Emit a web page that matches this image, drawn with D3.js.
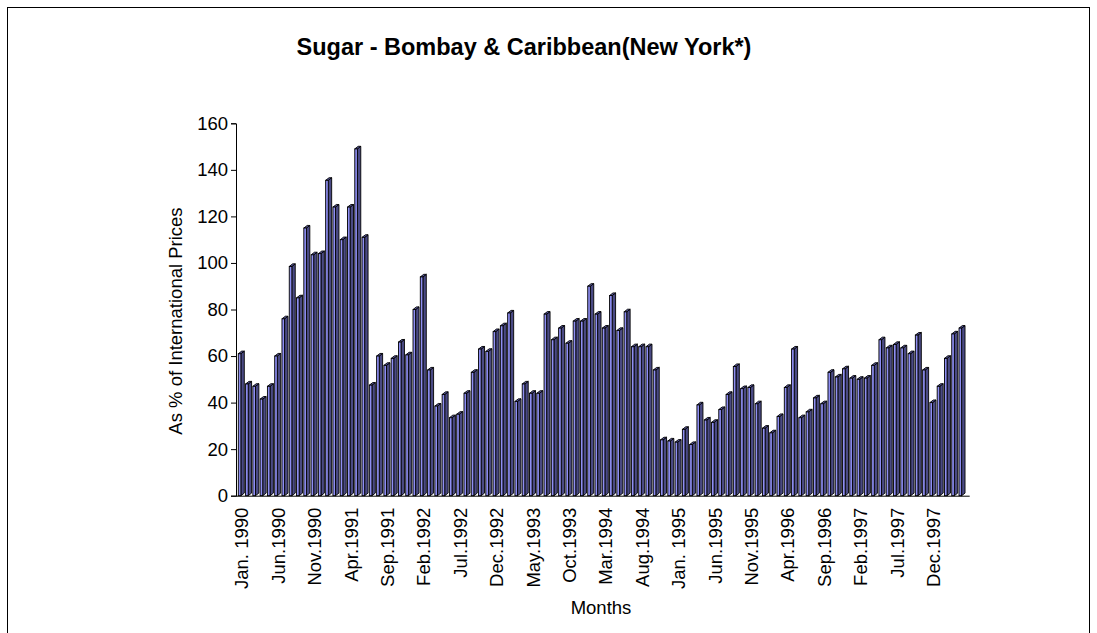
<!DOCTYPE html>
<html><head><meta charset="utf-8">
<script src="https://cdn.jsdelivr.net/npm/d3@7"></script>
<style>
body{margin:0;background:#fff;}
svg text{font-family:"Liberation Sans",Arial,sans-serif;fill:#000;}
</style></head>
<body><svg id="c" width="1097" height="633"></svg>
<script>
const title = "Sugar - Bombay & Caribbean(New York*)";
const yTitle = "As % of International Prices";
const xTitle = "Months";
const monthNames = ["Jan","Feb","Mar","Apr","May","Jun","Jul","Aug","Sep","Oct","Nov","Dec"];
const years = [1990,1991,1992,1993,1994,1995,1996,1997,1998];
const values = [61,48,47,41.5,47,60,76,98.5,85,115,103.5,104,
  135.5,124,110,124,149,111,47.5,60,56,59,66,60.5,
  80,94,54,38.5,43.5,33.5,35,44,53,63,62,70.5,
  73,78.5,40.5,48,44,44,78,67,72,65.5,75,75,
  90,78,72,86,71,79,64,64,64,54,24,23.5,
  23,28.5,22,39,32.5,31.5,37,43.5,55.5,46,46.5,39.5,
  29,27,34,46.5,63,33.5,36,42,39.5,53,51,54.5,
  50.5,50,50.5,56,67,63.5,65,63.5,61,69,54,40,
  47,59,69.5,72];
const tickLabels = ["Jan. 1990","Jun.1990","Nov.1990","Apr.1991","Sep.1991","Feb.1992","Jul.1992","Dec.1992","May.1993","Oct.1993","Mar.1994","Aug.1994","Jan. 1995","Jun.1995","Nov.1995","Apr.1996","Sep.1996","Feb.1997","Jul.1997","Dec.1997"];
const yTicks = [0,20,40,60,80,100,120,140,160];

const categories = [];
years.forEach(yr => monthNames.forEach(m => categories.push(m + "." + yr)));
const cats = categories.slice(0, values.length);
const data = cats.map((c,i)=>({c, v: values[i]}));
const tickCats = cats.filter((c,i)=> i % 5 === 0);
const tickMap = new Map(tickCats.map((c,i)=>[c, tickLabels[i]]));

const svg = d3.select("#c");
svg.append("rect").attr("x",7.5).attr("y",7.5).attr("width",1082).attr("height",640)
  .attr("fill","none").attr("stroke","#000").attr("stroke-width",1);

const x = d3.scaleBand().domain(cats).range([238.3, 238.3 + 7.28*cats.length]).padding(0);
const y = d3.scaleLinear().domain([0,160]).range([495.7,123.3]);

const fw = 2.6, dx = 3.4, dy = -2.6;
const light = "#8e8ef2", dark = "#4a4a84", topc = "#5c5ca8";
const g = svg.append("g");
data.forEach(d => {
  const x0 = x(d.c), yt = y(d.v), yb = y(0);
  g.append("path").attr("d", `M${x0+fw},${yt}L${x0+fw+dx},${yt+dy}L${x0+fw+dx},${yb+dy}L${x0+fw},${yb}Z`)
    .attr("fill", dark).attr("stroke","#000").attr("stroke-width",0.9);
  g.append("path").attr("d", `M${x0},${yt}L${x0+dx},${yt+dy}L${x0+fw+dx},${yt+dy}L${x0+fw},${yt}Z`)
    .attr("fill", topc).attr("stroke","#000").attr("stroke-width",0.9);
  g.append("rect").attr("x",x0).attr("y",yt).attr("width",fw).attr("height",yb-yt)
    .attr("fill", light).attr("stroke","#000").attr("stroke-width",0.9);
});

const ya = svg.append("g").attr("transform","translate(236,0)")
  .call(d3.axisLeft(y).tickValues(yTicks).tickSize(5).tickPadding(3));
ya.select(".domain").attr("stroke","#000");
ya.selectAll("text").style("font-size","18.5px");

const xa = svg.append("g").attr("transform",`translate(0,${y(0)})`)
  .call(d3.axisBottom(x).tickValues(tickCats).tickFormat(c=>tickMap.get(c)).tickSize(0).tickPadding(0));
xa.select(".domain").attr("d", `M236,0.5H${238.3+7.28*cats.length+dx}`).attr("stroke","#000");
xa.selectAll("text").style("font-size","18.5px")
  .attr("text-anchor","end").attr("dominant-baseline","middle")
  .attr("transform","translate(1.5,12) rotate(-90)").attr("x",0).attr("y",0).attr("dy",null);

svg.append("text").attr("x",524).attr("y",55).attr("text-anchor","middle")
  .style("font-size","23.5px").style("font-weight","bold").text(title);
svg.append("text").attr("transform","translate(182,321) rotate(-90)").attr("text-anchor","middle")
  .style("font-size","18.5px").text(yTitle);
svg.append("text").attr("x",601).attr("y",614).attr("text-anchor","middle")
  .style("font-size","18.5px").text(xTitle);
</script></body></html>
